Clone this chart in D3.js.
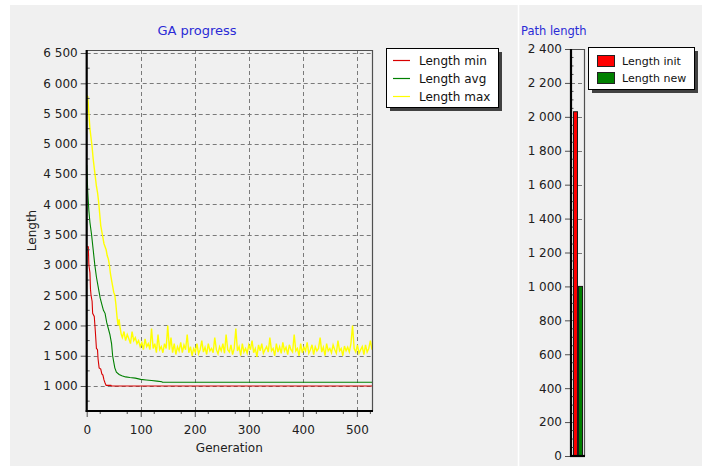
<!DOCTYPE html>
<html><head><meta charset="utf-8">
<script src="https://cdn.jsdelivr.net/npm/d3@7"></script>
<style>
html,body{margin:0;padding:0;background:#fff;}
svg text{font-family:"DejaVu Sans",Verdana,sans-serif;}
</style></head>
<body><svg id="c" width="702" height="466"></svg>
<script>
// ---------- DATA ----------
const seriesNames = ["Length min", "Length avg", "Length max"];
const seriesColors = ["#d80000", "#008000", "#ffff00"];
const yTicksLeft = [1000, 1500, 2000, 2500, 3000, 3500, 4000, 4500, 5000, 5500, 6000, 6500];
const xTicksLeft = [0, 100, 200, 300, 400, 500];
const minSeries = [[0,3300],[3,3300],[4,3000],[6,2870],[7,2600],[8,2500],[10,2400],[11,2200],[14,2150],[16,1900],[18,1620],[20,1600],[21,1450],[23,1300],[26,1280],[28,1200],[30,1180],[32,1100],[34,1050],[36,1010],[45,1010],[46,1000],[528,1000]];
const avgSeries = [[0,4650],[2,4200],[4,3900],[6,3700],[9,3500],[12,3250],[15,3000],[18,2800],[21,2650],[25,2450],[28,2350],[31,2250],[34,2200],[37,2050],[40,1950],[43,1850],[46,1700],[48,1500],[50,1400],[52,1300],[55,1230],[60,1190],[65,1170],[72,1150],[80,1140],[90,1130],[100,1110],[110,1100],[120,1090],[130,1080],[139,1070],[140,1062],[528,1062]];
const maxSeries = [[0,5800],[2,5780],[4,5500],[6,5250],[8,5100],[10,4950],[12,4750],[14,4600],[16,4450],[18,4300],[20,4200],[22,4050],[24,3850],[26,3650],[28,3550],[30,3450],[32,3350],[34,3300],[36,3250],[38,3150],[40,3100],[42,3000],[44,2850],[46,2750],[48,2650],[50,2550],[52,2500],[54,2350],[56,2150],[58,2000],[60,2100],[62,1950],[64,1850],
[66,1800],[69,1900],[72,1750],[75,1850],[78,1780],[81,1700],[84,1900],[87,1750],[90,1800],[93,1700],
[96,1750],[99,1650],[102,1720],[105,1600],[108,1780],[111,1650],[114,1700],[117,1600],[120,1950],[123,1620],
[126,1700],[129,1550],[132,1850],[135,1600],[138,1650],[141,1550],[144,1700],[147,1620],[150,2000],[153,1600],
[156,1800],[159,1550],[162,1700],[165,1520],[168,1650],[171,1580],[174,1720],[177,1550],[180,1680],[183,1600],
[186,1850],[189,1550],[192,1650],[195,1500],[198,1620],[201,1560],[204,1700],[207,1530],[210,1600],[213,1750],
[216,1560],[219,1640],[222,1520],[225,1700],[228,1580],[231,1620],[234,1550],[237,1800],[240,1600],[243,1530],
[246,1650],[249,1580],[252,1700],[255,1540],[258,1850],[261,1600],[264,1560],[267,1680],[270,1520],[273,1620],
[276,1950],[279,1580],[282,1650],[285,1500],[288,1700],[291,1560],[294,1620],[297,1540],[300,1680],[303,1600],
[306,1750],[309,1550],[312,1620],[315,1480],[318,1680],[321,1580],[324,1700],[327,1540],[330,1600],[333,1650],
[336,1560],[339,1800],[342,1580],[345,1620],[348,1500],[351,1700],[354,1560],[357,1650],[360,1540],[363,1720],
[366,1580],[369,1640],[372,1520],[375,1680],[378,1600],[381,1560],[384,1850],[387,1580],[390,1620],[393,1500],
[396,1700],[399,1550],[402,1640],[405,1580],[408,1720],[411,1540],[414,1600],[417,1680],[420,1520],[423,1650],
[426,1580],[429,1620],[432,1800],[435,1560],[438,1640],[441,1500],[444,1700],[447,1580],[450,1620],[453,1550],
[456,1680],[459,1600],[462,1540],[465,1750],[468,1580],[471,1620],[474,1500],[477,1660],[480,1580],[483,1640],
[486,1560],[489,1700],[492,2000],[495,1620],[498,1560],[501,1680],[504,1540],[507,1600],[510,1650],[513,1520],
[516,1680],[519,1560],[522,1620],[525,1750],[528,1600]];
const barNames = ["Length init", "Length new"];
const barColors = ["#ff0000", "#008000"];
const barValues = [2030, 1000];
const yTicksRight = [0, 200, 400, 600, 800, 1000, 1200, 1400, 1600, 1800, 2000, 2200, 2400];

// ---------- DRAW ----------
const svg = d3.select("#c");
svg.append("rect").attr("x",10).attr("y",5).attr("width",692).attr("height",461).attr("fill","#f0f0f0");
svg.append("line").attr("x1",518.5).attr("x2",518.5).attr("y1",5).attr("y2",466).attr("stroke","#ffffff").attr("stroke-width",1.5);

const blue = "#2b2bd6";
const gridCol = "#7a7a7a";
const tickCol = "#505050";

// Left chart
const L = {l:86.7, r:372, t:50, b:411};
const x = d3.scaleLinear().domain([0,528]).range([L.l, L.r]);
const y = d3.scaleLinear().domain([587,6550]).range([L.b, L.t]);

svg.append("text").attr("x",197).attr("y",35).attr("text-anchor","middle").attr("fill",blue).attr("font-size",13).text("GA progress");

const gl = svg.append("g");
gl.selectAll("line.h").data(yTicksLeft).join("line")
  .attr("x1",L.l).attr("x2",L.r).attr("y1",d=>Math.round(y(d))+0.5).attr("y2",d=>Math.round(y(d))+0.5)
  .attr("stroke",gridCol).attr("stroke-dasharray","4,3");
gl.selectAll("line.v").data(xTicksLeft.filter(d=>d>0)).join("line")
  .attr("y1",L.t).attr("y2",L.b).attr("x1",d=>Math.round(x(d))+0.5).attr("x2",d=>Math.round(x(d))+0.5)
  .attr("stroke",gridCol).attr("stroke-dasharray","4,3");

// lines
svg.append("clipPath").attr("id","cl").append("rect").attr("x",L.l).attr("y",L.t).attr("width",L.r-L.l).attr("height",L.b-L.t);
const line = d3.line().x(d=>x(d[0])).y(d=>y(d[1]));
const lg = svg.append("g").attr("clip-path","url(#cl)");
[maxSeries, avgSeries, minSeries].forEach((s,i)=>{
  lg.append("path").datum(s).attr("d",line).attr("fill","none")
    .attr("stroke",seriesColors[2-i]).attr("stroke-width",i===0?1.4:1.1);
});

// frame
svg.append("path").attr("d",`M${L.l},${L.t+0.5}H${L.r+0.5}V${L.b}`).attr("fill","none").attr("stroke","#505050").attr("stroke-width",1.2);

// y axis
const yAx = svg.append("g").attr("transform",`translate(${L.l},0)`)
  .call(d3.axisLeft(y).tickValues(yTicksLeft).tickSize(6).tickPadding(3)
        .tickFormat(d=>d3.format(",")(d).replace(/,/g," ")));
yAx.select(".domain").remove();
yAx.selectAll("line").attr("stroke",tickCol);
yAx.selectAll("text").attr("font-size",12).attr("fill","#202020");
const yMinor = d3.range(750, 6550, 500);
svg.append("g").selectAll("line").data(yMinor).join("line")
  .attr("x1",L.l).attr("x2",L.l+3).attr("y1",d=>y(d)).attr("y2",d=>y(d)).attr("stroke",tickCol);
// x axis
const xAx = svg.append("g").attr("transform",`translate(0,${L.b})`)
  .call(d3.axisBottom(x).tickValues(xTicksLeft).tickSize(6).tickPadding(8).tickFormat(d3.format("d")));
xAx.select(".domain").remove();
xAx.selectAll("line").attr("stroke",tickCol);
xAx.selectAll("text").attr("font-size",12).attr("fill","#202020");
const xMinor = d3.range(25, 528, 50);
svg.append("g").selectAll("line").data(xMinor).join("line")
  .attr("x1",d=>x(d)).attr("x2",d=>x(d)).attr("y1",L.b).attr("y2",L.b+3).attr("stroke",tickCol);
// thick axis lines
svg.append("line").attr("x1",L.l).attr("x2",L.l).attr("y1",L.t).attr("y2",L.b+1).attr("stroke","#000").attr("stroke-width",2.2);
svg.append("line").attr("x1",L.l-1).attr("x2",L.r+1).attr("y1",L.b).attr("y2",L.b).attr("stroke","#000").attr("stroke-width",2.2);

svg.append("text").attr("transform",`translate(36,${(L.t+L.b)/2}) rotate(-90)`).attr("text-anchor","middle")
  .attr("font-size",12).attr("fill","#202020").text("Length");
svg.append("text").attr("x",(L.l+L.r)/2).attr("y",452).attr("text-anchor","middle")
  .attr("font-size",12).attr("fill","#202020").text("Generation");

// legend left
const lgd = svg.append("g").attr("transform","translate(386,48)");
lgd.append("rect").attr("x",4).attr("y",4).attr("width",112).attr("height",59).attr("fill","#222").attr("opacity",0.85);
lgd.append("rect").attr("x",0.5).attr("y",0.5).attr("width",112).attr("height",59).attr("fill","#fff").attr("stroke","#000");
seriesNames.forEach((n,i)=>{
  const yy = 12 + i*18;
  lgd.append("line").attr("x1",7).attr("x2",24).attr("y1",yy+0.5).attr("y2",yy+0.5).attr("stroke",seriesColors[i]).attr("stroke-width",1.2);
  lgd.append("text").attr("x",33).attr("y",yy+4.5).attr("font-size",12).attr("fill","#111").text(n);
});

// Right chart
const R = {l:571, r:584, t:49, b:456};
svg.append("text").attr("x",521).attr("y",35).attr("fill",blue).attr("font-size",11.5).text("Path length");
const yR = d3.scaleLinear().domain([0,2400]).range([R.b, R.t]);
const xR = d3.scaleBand().domain(barNames).range([572.5, 583.5]).padding(0.2);
svg.append("g").selectAll("line").data(yTicksRight.filter(d=>d>0&&d<2400)).join("line")
  .attr("x1",R.l).attr("x2",R.r).attr("y1",d=>Math.round(yR(d))+0.5).attr("y2",d=>Math.round(yR(d))+0.5)
  .attr("stroke",gridCol).attr("stroke-dasharray","4,3");
svg.append("g").selectAll("rect").data(barValues).join("rect")
  .attr("x",(d,i)=>xR(barNames[i])).attr("width",xR.bandwidth())
  .attr("y",d=>yR(d)).attr("height",d=>R.b-yR(d))
  .attr("fill",(d,i)=>barColors[i]).attr("stroke","#1a1a1a").attr("stroke-width",1);
svg.append("path").attr("d",`M${R.l},${R.t+0.5}H${R.r+0.5}V${R.b}`).attr("fill","none").attr("stroke","#505050").attr("stroke-width",1.2);
const yRAx = svg.append("g").attr("transform",`translate(${R.l},0)`)
  .call(d3.axisLeft(yR).tickValues(yTicksRight).tickSize(6).tickPadding(3)
        .tickFormat(d=>d3.format(",")(d).replace(/,/g," ")));
yRAx.select(".domain").remove();
yRAx.selectAll("line").attr("stroke",tickCol);
yRAx.selectAll("text").attr("font-size",12).attr("fill","#202020");
svg.append("g").selectAll("line").data(d3.range(50,2400,50).filter(d=>d%200!==0)).join("line")
  .attr("x1",R.l).attr("x2",R.l+2.5).attr("y1",d=>yR(d)).attr("y2",d=>yR(d)).attr("stroke",tickCol);
svg.append("line").attr("x1",R.l).attr("x2",R.l).attr("y1",R.t).attr("y2",R.b+1).attr("stroke","#000").attr("stroke-width",2.2);
svg.append("line").attr("x1",R.l-1).attr("x2",R.r+1).attr("y1",R.b).attr("y2",R.b).attr("stroke","#000").attr("stroke-width",2.2);

// legend right
const lgr = svg.append("g").attr("transform","translate(588,47)");
lgr.append("rect").attr("x",4).attr("y",4).attr("width",106).attr("height",42).attr("fill","#222").attr("opacity",0.85);
lgr.append("rect").attr("x",0.5).attr("y",0.5).attr("width",106).attr("height",42).attr("fill","#fff").attr("stroke","#000");
barNames.forEach((n,i)=>{
  const yy = 14 + i*17;
  lgr.append("rect").attr("x",9.5).attr("y",yy-5.5).attr("width",17).attr("height",11).attr("fill",barColors[i]).attr("stroke","#222");
  lgr.append("text").attr("x",34).attr("y",yy+4).attr("font-size",11).attr("fill","#111").text(n);
});
</script></body></html>
